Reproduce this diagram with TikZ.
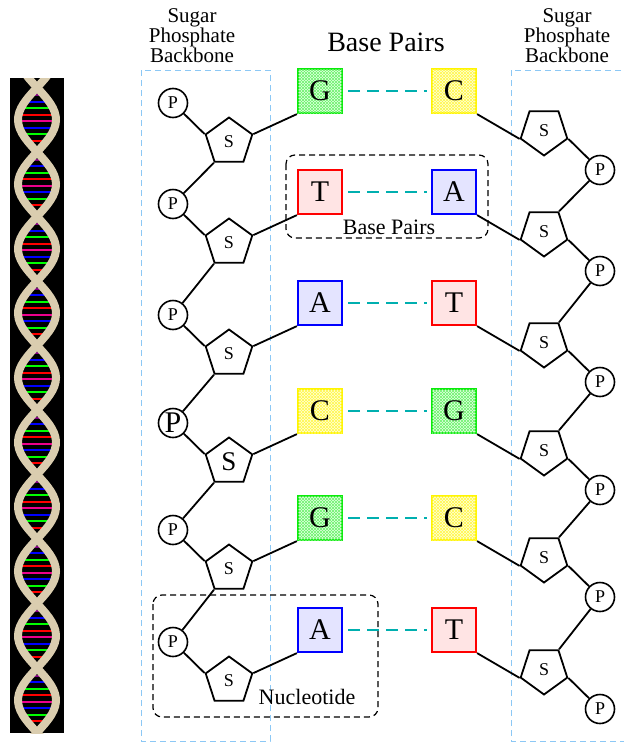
\documentclass[tikz,border=0pt]{standalone}
\usepackage{fontspec}
\setmainfont{Liberation Serif}
\usetikzlibrary{shapes.geometric}
\usetikzlibrary{patterns}

\definecolor{Gline}{RGB}{10,235,10}
\definecolor{Gfill}{RGB}{225,255,225}
\definecolor{Cline}{RGB}{255,245,0}
\definecolor{Cfill}{RGB}{255,255,215}
\definecolor{Tline}{RGB}{255,0,0}
\definecolor{Tfill}{RGB}{255,228,228}
\definecolor{Aline}{RGB}{0,0,255}
\definecolor{Afill}{RGB}{228,228,255}
\definecolor{hbond}{RGB}{0,175,175}
\definecolor{guide}{RGB}{140,200,245}
\definecolor{helix}{RGB}{218,205,175}

\tikzset{
	every node/.style = {inner sep=0pt},
	phos/.style = {circle, draw, line width=1.6pt, minimum size=29pt},
	sugarL/.style = {regular polygon, regular polygon sides=5, draw, line width=1.8pt, minimum size=49pt},
	sugarR/.style = {sugarL, shape border rotate=180},
	basebox/.style = {draw, line width=2.2pt, minimum size=44pt, font=\fontsize{30}{30}\selectfont},
	baseG/.style = {basebox, draw=Gline, fill=Gfill,
		postaction={pattern=north east lines, pattern color=Gline!60},
		postaction={pattern=north west lines, pattern color=Gline!60}},
	baseC/.style = {basebox, draw=Cline, fill=Cfill,
		postaction={pattern=north east lines, pattern color=Cline!70},
		postaction={pattern=north west lines, pattern color=Cline!70}},
	baseT/.style = {basebox, draw=Tline, fill=Tfill},
	baseA/.style = {basebox, draw=Aline, fill=Afill},
	bond/.style = {line width=1.8pt},
	pair/.style = {hbond, line width=2.4pt, dash pattern=on 12pt off 7pt, shorten <=5pt, shorten >=4pt},
	lane/.style = {guide, line width=1pt, dash pattern=on 6pt off 4pt},
	grpbox/.style = {line width=1.2pt, dash pattern=on 6pt off 4pt, rounded corners=9pt},
	heading/.style = {font=\fontsize{21}{19}\selectfont, align=center},
	boxtext/.style = {font=\fontsize{22}{22}\selectfont},
	twist/.style = {helix, line width=8pt}
}

\begin{document}
\begin{tikzpicture}[x=1pt, y=-1pt]
	\useasboundingbox (0,0) rectangle (624,742);

	% helix strip
	\begin{scope}
		\clip (10,78) rectangle (64,733);
		\fill[black] (10,78) rectangle (64,733);
		\foreach \k in {0,...,9}
			\foreach \c [count=\j] in {violet,blue,green,red,magenta,blue,green,red}{
				\pgfmathsetmacro\yy{87.5+64.5*\k+6.5*\j+1}
				\pgfmathsetmacro\ww{16*sin((6.5*\j+1)/64.5*180)}
				\draw[color=\c, line width=2pt] (37-\ww,\yy) -- (37+\ww,\yy);
			}
		\draw[twist] plot[variable=\t, domain=70:740, samples=160] ({37+19*sin((\t-87.5)/64.5*180)}, \t);
		\draw[twist] plot[variable=\t, domain=70:740, samples=160] ({37-19*sin((\t-87.5)/64.5*180)}, \t);
	\end{scope}

	% backbone lanes
	\draw[lane] (141,70) rectangle (270,741);
	\draw[lane] (511,70) rectangle (640,741);

	% headings
	\node[heading] (hl) at (192,36) {Sugar\\Phosphate\\Backbone};
	\node[heading] (hr) at (567,36) {Sugar\\Phosphate\\Backbone};
	\node[font=\fontsize{28}{28}\selectfont] (hm) at (386,42) {Base Pairs};

	% bases
	\node[baseG] (l1) at (320,91) {G};
	\node[baseC] (r1) at (454,91) {C};
	\node[baseT] (l2) at (320,192) {T};
	\node[baseA] (r2) at (454,192) {A};
	\node[baseA] (l3) at (320,303) {A};
	\node[baseT] (r3) at (454,303) {T};
	\node[baseC] (l4) at (320,411) {C};
	\node[baseG] (r4) at (454,411) {G};
	\node[baseG] (l5) at (320,518) {G};
	\node[baseC] (r5) at (454,518) {C};
	\node[baseA] (l6) at (320,630) {A};
	\node[baseT] (r6) at (454,630) {T};

	% phosphates and sugars
	\foreach \i/\y/\fp/\fs in {1/91/18/18, 2/192/18/18, 3/303/18/18, 4/411/30/27, 5/518/18/18, 6/630/18/18}{
		\node[phos, font=\fontsize{\fp}{\fp}\selectfont] (pl\i) at (173,\y+12) {P};
		\node[sugarL, font=\fontsize{\fs}{\fs}\selectfont] (sl\i) at (229,\y+51) {S};
		\node[sugarR, font=\fontsize{18}{18}\selectfont] (sr\i) at (544,\y+40) {S};
		\node[phos, font=\fontsize{18}{18}\selectfont] (pr\i) at (600,\y+79) {P};
	}

	% bonds
	\foreach \i in {1,...,6}{
		\draw[bond] (pl\i) -- (sl\i.162);
		\draw[bond] (sl\i.18) -- (l\i.south west);
		\draw[bond] (r\i.south east) -- (sr\i.198);
		\draw[bond] (sr\i.342) -- (pr\i);
		\draw[pair] (l\i) -- (r\i);
	}
	\foreach \i [evaluate=\i as \j using int(\i+1)] in {1,...,5}{
		\draw[bond] (sl\i.234) -- (pl\j);
		\draw[bond] (sr\j.54) -- (pr\i);
	}

	% groupings
	\draw[grpbox] (286,155) rectangle (488,238);
	\node[boxtext] (gbp) at (389,227) {Base Pairs};
	\draw[grpbox] (153,595) rectangle (378,717);
	\node[boxtext] (gnu) at (307,697) {Nucleotide};
\end{tikzpicture}
\end{document}
